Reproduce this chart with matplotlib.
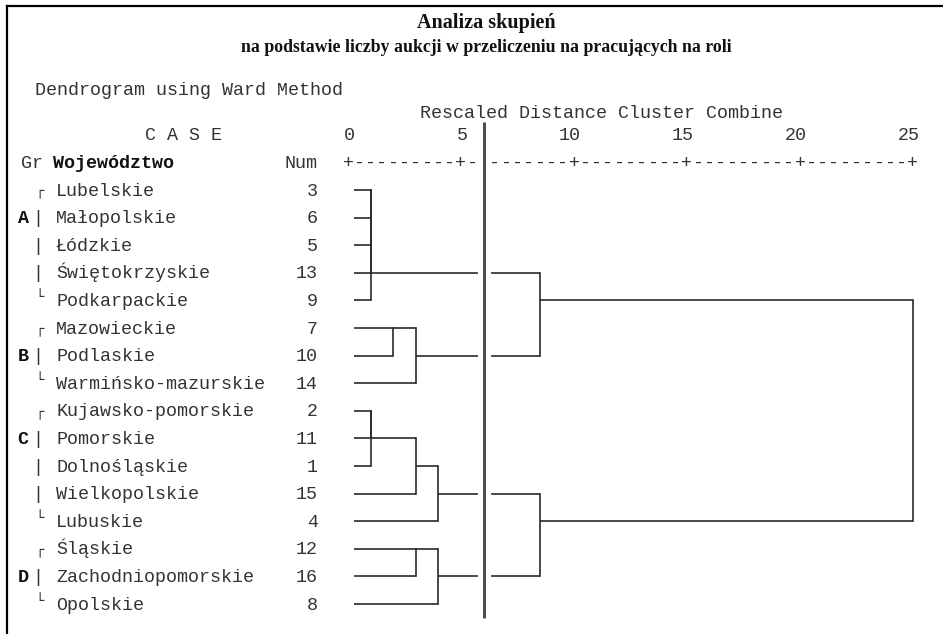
import matplotlib
matplotlib.use("Agg")
import matplotlib.pyplot as plt
import matplotlib.patheffects as pe
from matplotlib.lines import Line2D

# leaves, top to bottom
names = ["Lubelskie", "Małopolskie", "Łódzkie", "Świętokrzyskie", "Podkarpackie",
         "Mazowieckie", "Podlaskie", "Warmińsko-mazurskie",
         "Kujawsko-pomorskie", "Pomorskie", "Dolnośląskie", "Wielkopolskie", "Lubuskie",
         "Śląskie", "Zachodniopomorskie", "Opolskie"]
nums = [3, 6, 5, 13, 9, 7, 10, 14, 2, 11, 1, 15, 4, 12, 16, 8]
groups = ["A"] * 5 + ["B"] * 3 + ["C"] * 5 + ["D"] * 3

# merges: (node a, node b, rescaled distance); new nodes numbered from 16
merges = [(0, 1, 1.0), (16, 2, 1.0), (17, 3, 1.0), (18, 4, 1.0),
          (5, 6, 2.0), (20, 7, 3.0),
          (19, 21, 8.5),
          (8, 9, 1.0), (23, 10, 1.0), (24, 11, 3.0), (25, 12, 4.0),
          (13, 14, 3.0), (27, 15, 4.0),
          (26, 28, 8.5),
          (22, 29, 25.0)]
ticks = [0, 5, 10, 15, 20, 25]
cut_level = 6.0

title = "Analiza skupień"
subtitle = "na podstawie liczby aukcji w przeliczeniu na pracujących na roli"

MONO = "Liberation Mono"
SERIF = "Liberation Serif"
TXT = "#333333"
LINE = "#2a2a2a"
FS = 13.2
BASE = 0.2   # baseline offset (rows) so text sits centred on the row line

W, H = 943, 634
x0, ux = 348.0, 22.6   # pixel of distance 0, pixels per unit
y0, uy = 190.0, 27.6   # pixel of first row, pixels per row


def px(xp):
    return (xp - x0) / ux


def py(yp):
    return (yp - y0) / uy


def mono(x, y, s, **kw):
    opts = dict(family=MONO, fontsize=FS, color=TXT, va="baseline")
    opts.update(kw)
    return ax.text(x, y + BASE, s, **opts)


fig = plt.figure(figsize=(W / 100, H / 100), dpi=100)
ax = fig.add_axes([0, 0, 1, 1])
ax.set_xlim(px(0), px(W))
ax.set_ylim(py(H), py(0))
ax.axis("off")

# frame (top and left only, as in the source)
fig.add_artist(Line2D([7.5 / W, 1], [1 - 5.5 / H, 1 - 5.5 / H], color="black", lw=1.6))
fig.add_artist(Line2D([7.5 / W, 7.5 / W], [0, 1 - 5.5 / H], color="black", lw=1.6))

# titles
fig.text(486 / W, 1 - 23 / H, title, family=SERIF, fontsize=14.5, ha="center",
         va="center", color="#111111", fontweight="bold")
fig.text(486 / W, 1 - 48 / H, subtitle, family=SERIF, fontsize=12.8, ha="center",
         va="center", color="#111111", fontweight="bold")

mono(px(35), py(89), "Dendrogram using Ward Method")
mono(px(420), py(112), "Rescaled Distance Cluster Combine")
mono(px(145), -2, "C A S E")
for t in ticks:
    mono(t + 0.3, -2, str(t), ha="right")

# header row
mono(px(21), -1, "Gr")
mono(px(53), -1, "Województwo", fontweight="bold", color="#111111")
mono(px(284), -1, "Num")
for i in range(int(ticks[-1] * 2) + 1):
    mono(i * 0.5, -1, "+" if i % 10 == 0 else "-", ha="center")

# case labels
for r, (g, name, n) in enumerate(zip(groups, names, nums)):
    first = r == 0 or groups[r - 1] != g
    last = r == len(groups) - 1 or groups[r + 1] != g
    members = [i for i, gg in enumerate(groups) if gg == g]
    if first:
        ax.text(px(40), r + 0.05, "┌", family="DejaVu Sans Mono", fontsize=10,
                color=TXT, va="center", ha="center")
    elif last:
        ax.text(px(40), r - 0.12, "└", family="DejaVu Sans Mono", fontsize=10,
                color=TXT, va="center", ha="center")
    else:
        mono(px(38), r, "|", ha="center")
    if r == members[1]:
        mono(px(23), r, g, ha="center", fontweight="bold", color="#111111")
    mono(px(56), r, name)
    mono(px(318), r, str(n), ha="right")

# dendrogram, SPSS style: a merged cluster continues on the middle row
nodes = [(r, 0.25) for r in range(len(names))]
for a, b, h in merges:
    ra, xa = nodes[a]
    rb, xb = nodes[b]
    ax.plot([xa, h], [ra, ra], color=LINE, lw=1.2, solid_capstyle="butt")
    ax.plot([xb, h], [rb, rb], color=LINE, lw=1.2, solid_capstyle="butt")
    ax.plot([h, h], [min(ra, rb), max(ra, rb)], color=LINE, lw=1.2,
            solid_capstyle="projecting")
    nodes.append(((ra + rb) // 2, h))

# cut line
ax.plot([cut_level, cut_level], [py(122), py(618)], color="#505050", lw=2.2,
        solid_capstyle="butt", zorder=5,
        path_effects=[pe.Stroke(linewidth=9.5, foreground="white"), pe.Normal()])

fig.savefig("out.png", dpi=100)
